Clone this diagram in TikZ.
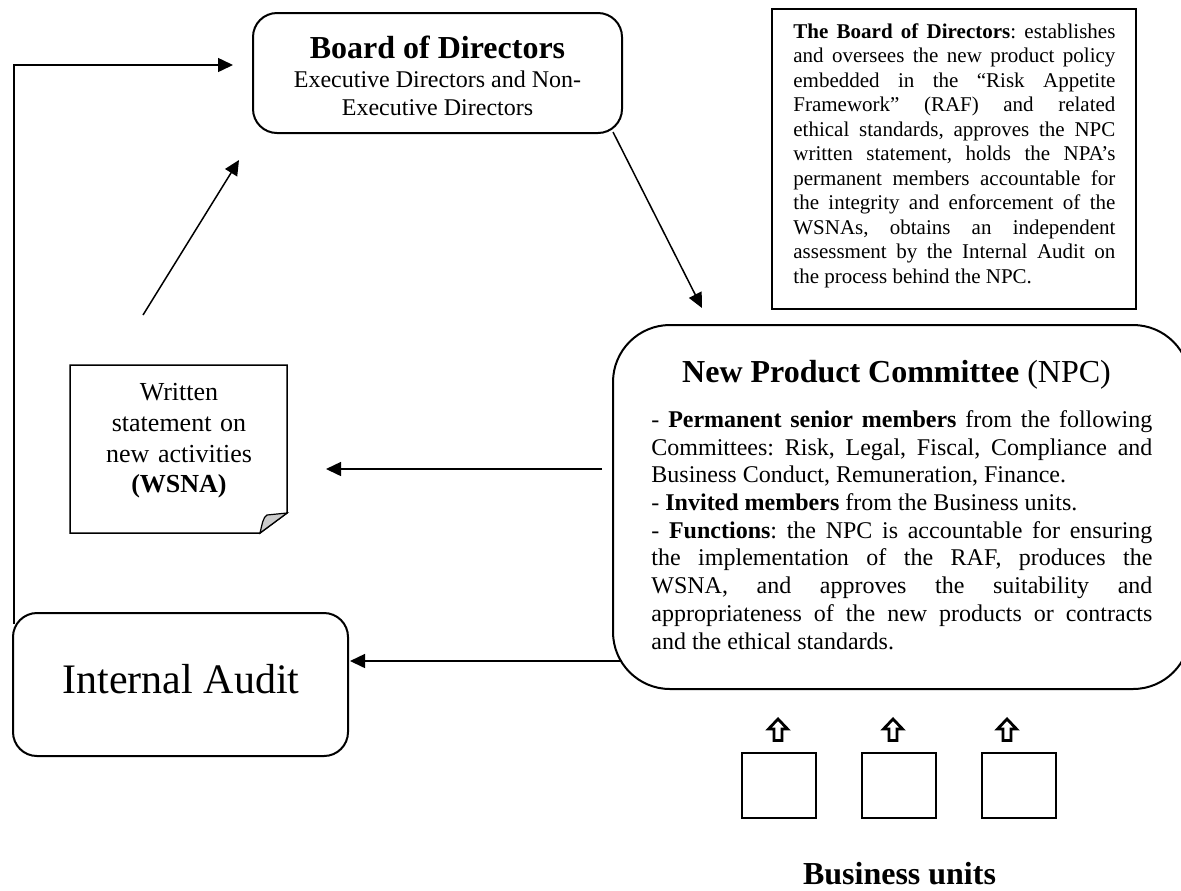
\documentclass[tikz,border=0pt]{standalone}
\usepackage{fontspec}
\setmainfont{Liberation Serif}
\usetikzlibrary{arrows.meta}
\setlength{\parindent}{0pt}
\setlength{\parskip}{0pt}
\frenchspacing
\begin{document}
\begin{tikzpicture}[x=0.5pt,y=-0.5pt,
  conn/.style={line width=0.75pt,-{Triangle[length=7.5pt,width=7pt]}},
  rbox/.style={draw,line width=1pt,rectangle,inner sep=0pt},
  unitbox/.style={draw,line width=0.8pt,rectangle,inner sep=0pt,minimum width=37pt,minimum height=32.5pt},
  uparrow/.pic={\draw[line width=1.4pt,line join=miter] (0,1) -- (9.5,11) -- (4,11) -- (4,22.5) -- (-4,22.5) -- (-4,11) -- (-9.5,11) -- cycle;}
]
\useasboundingbox (0,0) rectangle (1181,890);
\clip (0,0) rectangle (1181,890);

% Board of Directors
\node[rbox,rounded corners=12pt,minimum width=184.5pt,minimum height=60pt] (board) at (437.5,73) {};
\node[anchor=base,inner sep=0pt,font=\fontsize{16}{18}\selectfont\bfseries] (boardtitle) at (437.5,58) {Board of Directors};
\node[anchor=base,inner sep=0pt,font=\fontsize{12}{14}\selectfont] (boardsub1) at (437.5,87) {Executive Directors and Non-};
\node[anchor=base,inner sep=0pt,font=\fontsize{12}{14}\selectfont] (boardsub2) at (437.5,115) {Executive Directors};

% Text box
\node[rbox,minimum width=182pt,minimum height=150pt] (bodbox) at (954,159) {};
\node[anchor=north west,inner sep=0pt,text width=161pt,align=justify,font=\fontsize{10.5}{12.25}\selectfont] (bodtext) at (793,20.85)
{\strut\textbf{The Board of Directors}: establishes\linebreak
and oversees the new product policy\linebreak
embedded in the “Risk Appetite\linebreak
Framework” (RAF) and related\linebreak
ethical standards, approves the NPC\linebreak
written statement, holds the NPA’s\linebreak
permanent members accountable for\linebreak
the integrity and enforcement of the\linebreak
WSNAs, obtains an independent\linebreak
assessment by the Internal Audit on\linebreak
the process behind the NPC.};

% New Product Committee
\node[rbox,rounded corners=28.5pt,minimum width=288.5pt,minimum height=182pt] (npc) at (901.5,507) {};
\node[anchor=base,inner sep=0pt,font=\fontsize{16}{18}\selectfont] (npctitle) at (896.5,382) {\textbf{New Product Committee} (NPC)};
\node[anchor=north west,inner sep=0pt,text width=250.5pt,align=justify,font=\fontsize{12}{13.85}\selectfont] (npctext) at (651,407.6)
{\strut - \textbf{Permanent senior members} from the following\linebreak
Committees: Risk, Legal, Fiscal, Compliance and\linebreak
Business Conduct, Remuneration, Finance.\par
- \textbf{Invited members} from the Business units.\par
- \textbf{Functions}: the NPC is accountable for ensuring\linebreak
the implementation of the RAF, produces the\linebreak
WSNA, and approves the suitability and\linebreak
appropriateness of the new products or contracts\linebreak
and the ethical standards.};

% Written statement note
\draw[line width=0.75pt] (70,365) -- (287,365) -- (287,513) -- (260,533) -- (70,533) -- cycle;
\filldraw[line width=0.6pt,fill=gray!40] (287,513) -- (260,533) .. controls (262,525) and (263,517) .. (267,515) -- cycle;
\node[anchor=north,inner sep=0pt,text width=110pt,align=center,font=\fontsize{13}{15.4}\selectfont] (note) at (179,378.44)
{\strut Written\\statement on\\new activities\\\textbf{(WSNA)}};

% Internal Audit
\node[rbox,rounded corners=12pt,minimum width=167.5pt,minimum height=71.5pt] (audit) at (180.5,684.5) {};
\node[anchor=base,inner sep=0pt,font=\fontsize{21}{24}\selectfont] (audittext) at (181,693) {Internal Audit};

% Business units
\node[unitbox] (bu1) at (779,785.5) {};
\node[unitbox] (bu2) at (899,785.5) {};
\node[unitbox] (bu3) at (1019,785.5) {};
\pic at (778,718) {uparrow};
\pic at (893,718) {uparrow};
\pic at (1007,718) {uparrow};
\node[anchor=base,inner sep=0pt,font=\fontsize{16}{18}\selectfont\bfseries] (butext) at (899.5,884) {Business units};

% Connector end points
\coordinate (fbS) at (14,624);
\coordinate (fbC) at (14,65);
\coordinate (fbE) at (233,65);
\coordinate (dgS) at (143,315);
\coordinate (dgE) at (239,160);
\coordinate (dnS) at (613,132);
\coordinate (dnE) at (702,308);
\coordinate (wsS) at (602,469);
\coordinate (wsE) at (326,469);
\coordinate (iaS) at (622,661);
\coordinate (iaE) at (350,661);

\draw[conn] (fbS) -- (fbC) -- (fbE);
\draw[conn] (dgS) -- (dgE);
\draw[conn] (dnS) -- (dnE);
\draw[conn] (wsS) -- (wsE);
\draw[conn] (iaS) -- (iaE);
\end{tikzpicture}
\end{document}
